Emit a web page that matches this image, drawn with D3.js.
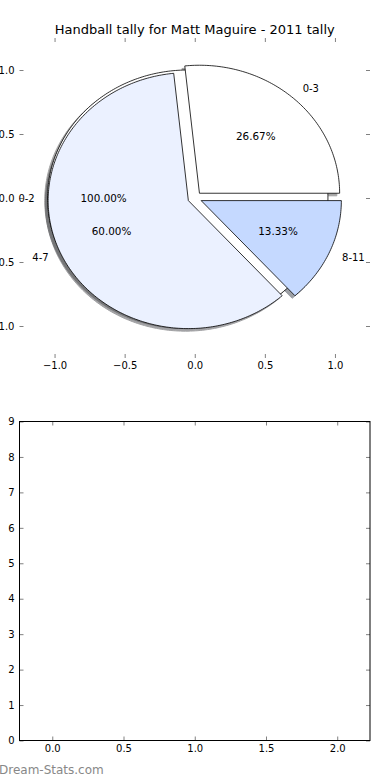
<!DOCTYPE html>
<html>
<head>
<meta charset="utf-8">
<script src="https://cdn.jsdelivr.net/npm/d3@7"></script>
<style>
  html, body { margin: 0; padding: 0; background: #fff; }
  svg { display: block; font-family: "DejaVu Sans", sans-serif; }
</style>
</head>
<body>
<svg id="chart" width="390" height="780"></svg>
<script>
// ---- data ----
const titleText = "Handball tally for Matt Maguire - 2011 tally";
const outerLabels = ["0-2"];
const outerValues = [1];
const innerLabels = ["0-3", "4-7", "8-11"];
const innerValues = [4, 9, 2];
const sliceColors = ["#FFFFFF", "#EBF1FF", "#C5D9FF"];
const explodeAmount = 0.05;
const pieTicks = [-1.0, -0.5, 0.0, 0.5, 1.0];
const lowerXTicks = [0.0, 0.5, 1.0, 1.5, 2.0];
const lowerYTicks = [0, 1, 2, 3, 4, 5, 6, 7, 8, 9];
const watermark = "Dream-Stats.com";

// ---- layout ----
const svg = d3.select("#chart");
const AX = {left: 19.5, right: 370};
const top1 = {top: 38, bottom: 358};
const bot1 = {top: 421.5, bottom: 740.5};

const sx = d3.scaleLinear().domain([-1.25, 1.25]).range([AX.left, AX.right]);
const sy = d3.scaleLinear().domain([-1.25, 1.25]).range([top1.bottom, top1.top]);

const pieGen = d3.pie().sort(null).startAngle(0).endAngle(2 * Math.PI).value(d => d);
const pct = d3.format(".2f");

function wedgePath(cx, cy, r, a0, a1, full) {
  const n = Math.max(8, Math.ceil((a1 - a0) / (Math.PI / 180)));
  const pts = d3.range(n + 1).map(i => {
    const a = a0 + (a1 - a0) * i / n;
    return [sx(cx + r * Math.cos(a)), sy(cy + r * Math.sin(a))];
  });
  if (!full) pts.unshift([sx(cx), sy(cy)]);
  return d3.line()(pts) + "Z";
}

function layout(labels, values, colorOffset) {
  const total = d3.sum(values);
  return pieGen(values).map((p, i) => {
    const mid = (p.startAngle + p.endAngle) / 2;
    const ox = explodeAmount * Math.cos(mid), oy = explodeAmount * Math.sin(mid);
    return {
      label: labels[i],
      value: p.value,
      pct: pct(p.value / total * 100) + "%",
      a0: p.startAngle, a1: p.endAngle, mid, ox, oy,
      full: Math.abs(p.endAngle - p.startAngle - 2 * Math.PI) < 1e-9,
      color: sliceColors[(i + colorOffset) % sliceColors.length]
    };
  });
}

const outer = layout(outerLabels, outerValues, 0);
const inner = layout(innerLabels, innerValues, 0);
const all = outer.concat(inner);

function darker(c) {
  const rgb = d3.rgb(c);
  return d3.rgb(rgb.r * 0.3, rgb.g * 0.3, rgb.b * 0.3).toString();
}

// ---- top axes ticks (no frame) ----
const topG = svg.append("g");
function styleAxis(g) {
  g.selectAll(".domain").remove();
  g.selectAll(".tick line").attr("stroke", "#000").attr("stroke-width", 0.5);
  g.selectAll(".tick text").attr("font-family", "DejaVu Sans").attr("font-size", 10).attr("fill", "#000");
  g.attr("font-family", "DejaVu Sans");
}
const f1 = d3.format(".1f");
topG.append("g").attr("transform", `translate(0,${top1.bottom})`)
  .call(d3.axisBottom(sx).tickValues(pieTicks).tickFormat(f1).tickSize(-4).tickPadding(4)).call(styleAxis);
topG.append("g").attr("transform", `translate(0,${top1.top})`)
  .call(d3.axisTop(sx).tickValues(pieTicks).tickFormat("").tickSize(-4)).call(styleAxis);
topG.append("g").attr("transform", `translate(${AX.left},0)`)
  .call(d3.axisLeft(sy).tickValues(pieTicks).tickFormat(f1).tickSize(-4).tickPadding(5)).call(styleAxis);
topG.append("g").attr("transform", `translate(${AX.right},0)`)
  .call(d3.axisRight(sy).tickValues(pieTicks).tickFormat("").tickSize(-4)).call(styleAxis);

// ---- shadows ----
const pieG = svg.append("g");
pieG.selectAll("path.shadow").data(all).join("path")
  .attr("class", "shadow")
  .attr("d", d => wedgePath(d.ox - 0.02, d.oy - 0.02, 1, d.a0, d.a1, d.full))
  .attr("fill", d => darker(d.color))
  .attr("stroke", d => darker(d.color))
  .attr("stroke-width", 1)
  .attr("opacity", 0.5);

// ---- wedges ----
pieG.selectAll("path.wedge").data(all).join("path")
  .attr("class", "wedge")
  .attr("d", d => wedgePath(d.ox, d.oy, 1, d.a0, d.a1, d.full))
  .attr("fill", d => d.color)
  .attr("stroke", "#000")
  .attr("stroke-width", 0.8)
  .attr("stroke-linejoin", "miter");

// ---- labels ----
pieG.selectAll("text.pct").data(all).join("text")
  .attr("class", "pct")
  .attr("x", d => sx(d.ox + 0.6 * Math.cos(d.mid)))
  .attr("y", d => sy(d.oy + 0.6 * Math.sin(d.mid)))
  .attr("dy", "0.35em")
  .attr("text-anchor", "middle")
  .attr("font-size", 10.4)
  .text(d => d.pct);

pieG.selectAll("text.lbl").data(all).join("text")
  .attr("class", "lbl")
  .attr("x", d => sx(d.ox + 1.1 * Math.cos(d.mid)) + ((d.ox + 1.1 * Math.cos(d.mid)) > 0 ? 0 : 1.2))
  .attr("y", d => sy(d.oy + 1.1 * Math.sin(d.mid)))
  .attr("dy", "0.35em")
  .attr("text-anchor", d => (d.ox + 1.1 * Math.cos(d.mid)) > 0 ? "start" : "end")
  .attr("font-size", 10)
  .text(d => d.label);

// ---- title ----
svg.append("text")
  .attr("x", (AX.left + AX.right) / 2)
  .attr("y", 34)
  .attr("text-anchor", "middle")
  .attr("font-size", 13)
  .text(titleText);

// ---- lower empty axes ----
const bx = d3.scaleLinear().domain([-0.23, 2.23]).range([AX.left, AX.right]);
const by = d3.scaleLinear().domain([0, 9]).range([bot1.bottom, bot1.top]);
const botG = svg.append("g");
botG.append("g").attr("transform", `translate(0,${bot1.bottom})`)
  .call(d3.axisBottom(bx).tickValues(lowerXTicks).tickFormat(f1).tickSize(-4).tickPadding(4)).call(styleAxis);
botG.append("g").attr("transform", `translate(0,${bot1.top})`)
  .call(d3.axisTop(bx).tickValues(lowerXTicks).tickFormat("").tickSize(-4)).call(styleAxis);
botG.append("g").attr("transform", `translate(${AX.left},0)`)
  .call(d3.axisLeft(by).tickValues(lowerYTicks).tickFormat(d3.format("d")).tickSize(-4).tickPadding(5)).call(styleAxis);
botG.append("g").attr("transform", `translate(${AX.right},0)`)
  .call(d3.axisRight(by).tickValues(lowerYTicks).tickFormat("").tickSize(-4)).call(styleAxis);
botG.append("rect")
  .attr("x", AX.left).attr("y", bot1.top)
  .attr("width", AX.right - AX.left).attr("height", bot1.bottom - bot1.top)
  .attr("fill", "none").attr("stroke", "#000").attr("stroke-width", 1);

// ---- watermark ----
svg.append("text")
  .attr("x", -1).attr("y", 774)
  .attr("font-size", 12)
  .attr("fill", "#888")
  .text(watermark);
</script>
</body>
</html>
